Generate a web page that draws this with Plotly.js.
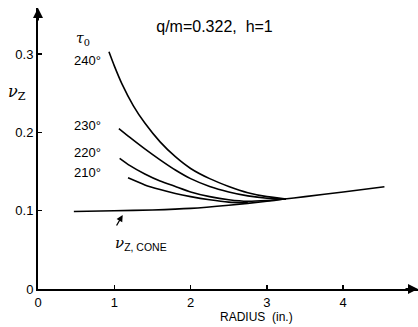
<!DOCTYPE html>
<html>
<head>
<meta charset="utf-8">
<script src="https://cdn.plot.ly/plotly-3.0.1.min.js"></script>
<style>html,body{margin:0;padding:0;background:#fff;}#chart{width:418px;height:327px;}</style>
</head>
<body>
<div id="chart"></div>
<script>
// Data
var r240 = [0.93, 1.0, 1.1, 1.25, 1.4, 1.6, 1.8, 2.0, 2.25, 2.5, 2.75, 3.0, 3.25];
var v240 = [0.303, 0.285, 0.262, 0.234, 0.212, 0.188, 0.169, 0.154, 0.141, 0.131, 0.123, 0.118, 0.115];
var r230 = [1.06, 1.2, 1.4, 1.6, 1.8, 2.0, 2.25, 2.5, 2.75, 3.0, 3.25];
var v230 = [0.205, 0.194, 0.179, 0.165, 0.152, 0.141, 0.131, 0.124, 0.119, 0.116, 0.115];
var r220 = [1.07, 1.2, 1.4, 1.6, 1.8, 2.0, 2.25, 2.5, 2.75, 3.0, 3.25];
var v220 = [0.167, 0.158, 0.147, 0.138, 0.131, 0.124, 0.118, 0.114, 0.112, 0.113, 0.115];
var r210 = [1.18, 1.4, 1.6, 1.8, 2.0, 2.25, 2.5, 2.75];
var v210 = [0.142, 0.133, 0.127, 0.122, 0.118, 0.114, 0.111, 0.110];
var rCone = [0.47, 1.0, 1.5, 2.0, 2.5, 3.0, 3.2, 3.5, 4.0, 4.54];
var vCone = [0.099, 0.100, 0.101, 0.103, 0.107, 0.112, 0.1146, 0.118, 0.124, 0.1307];

var xTickVals = [0, 1, 2, 3, 4];
var xTickText = ["0", "1", "2", "3", "4"];
var yTickVals = [0, 0.1, 0.2, 0.3];
var yTickText = ["0", "0.1", "0.2", "0.3"];
var curveLabels = ["240°", "230°", "220°", "210°"];

var FONT = "Liberation Sans, Arial, sans-serif";
function line(x, y) {
  return {x: x, y: y, mode: "lines", type: "scatter", line: {color: "#000", width: 1.6, shape: "spline", smoothing: 0.5}, hoverinfo: "skip", showlegend: false};
}
var data = [line(r240, v240), line(r230, v230), line(r220, v220), line(r210, v210), line(rCone, vCone)];

var labelY = [0.2925, 0.2095, 0.175, 0.1494];
var annotations = [];
for (var i = 0; i < curveLabels.length; i++) {
  annotations.push({x: 0.655, y: labelY[i], xref: "x", yref: "y", text: curveLabels[i], showarrow: false, font: {family: FONT, size: 13, color: "#000"}});
}
annotations.push({x: 0.596, y: 0.32, xref: "x", yref: "y", text: "<i>τ</i><sub>0</sub>", showarrow: false, font: {family: "DejaVu Serif, serif", size: 14, color: "#000"}});
annotations.push({x: -0.0553, y: 0.701, xref: "paper", yref: "paper", xanchor: "center", yanchor: "middle", text: "<i>ν</i><sub>Z</sub>", showarrow: false, font: {family: "DejaVu Serif, serif", size: 16, color: "#000"}});
annotations.push({x: 0.98, y: 0.0575, xref: "x", yref: "y", xanchor: "left", text: "<i>ν</i><sub><span style='font-family:Liberation Sans'>Z, CONE</span></sub>", showarrow: false, font: {family: "DejaVu Serif, serif", size: 15, color: "#000"}});
annotations.push({x: 1.11, y: 0.0945, xref: "x", yref: "y", ax: -7, ay: 12, text: "", showarrow: true, arrowhead: 2, arrowsize: 1, arrowwidth: 1.3, arrowcolor: "#000"});
annotations.push({x: 0.576, y: -0.0996, xref: "paper", yref: "paper", xanchor: "center", yanchor: "middle", text: "RADIUS  (in.)", showarrow: false, font: {family: FONT, size: 12, color: "#000"}});
// axis arrows
annotations.push({x: 4.98, y: 0, xref: "x", yref: "y", ax: -14, ay: 0, text: "", showarrow: true, arrowhead: 2, arrowsize: 1, arrowwidth: 2, arrowcolor: "#000"});
annotations.push({x: 0, y: 0.359, xref: "x", yref: "y", ax: 0, ay: 14, text: "", showarrow: true, arrowhead: 2, arrowsize: 1, arrowwidth: 2, arrowcolor: "#000"});

var layout = {
  width: 418, height: 327,
  margin: {l: 38, r: 0, t: 8, b: 38},
  paper_bgcolor: "#fff", plot_bgcolor: "#fff",
  title: {text: "q/m=0.322,  h=1", x: 214.5 / 418, xanchor: "center", y: 1 - 26 / 327, yanchor: "middle", font: {family: FONT, size: 16, color: "#000"}},
  xaxis: {range: [0, 4.98], showgrid: false, zeroline: false, showline: true, linewidth: 2, linecolor: "#000",
    tickmode: "array", tickvals: xTickVals, ticktext: xTickText, ticks: "inside", ticklen: 4, tickwidth: 1.5, tickcolor: "#000",
    tickfont: {family: FONT, size: 13, color: "#000"}},
  yaxis: {range: [0, 0.359], showgrid: false, zeroline: false, showline: true, linewidth: 2, linecolor: "#000",
    tickmode: "array", tickvals: yTickVals, ticktext: yTickText, ticks: "inside", ticklen: 4, tickwidth: 1.5, tickcolor: "#000",
    tickfont: {family: FONT, size: 13, color: "#000"}},
  annotations: annotations,
  showlegend: false
};
Plotly.newPlot("chart", data, layout, {staticPlot: true, displayModeBar: false});
</script>
</body>
</html>
